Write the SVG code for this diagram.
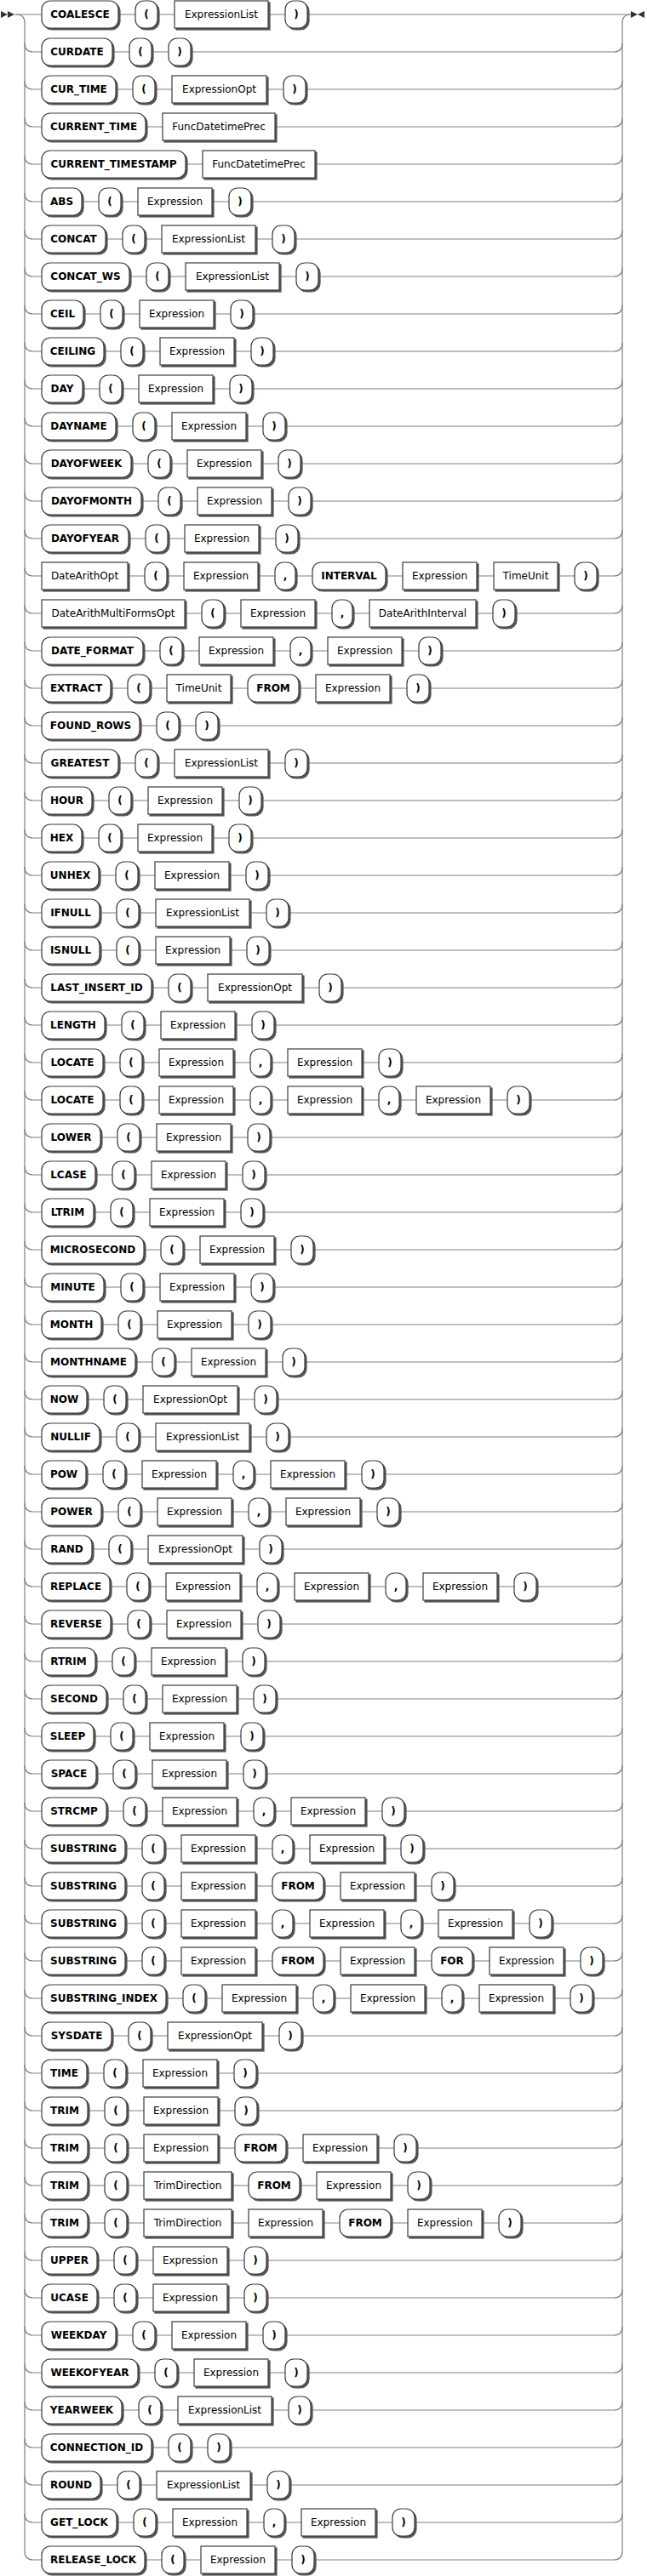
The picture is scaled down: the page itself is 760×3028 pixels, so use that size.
<svg xmlns="http://www.w3.org/2000/svg" width="760" height="3028" viewBox="0 0 760 3028">
<style>
.line{fill:none;stroke:#808080;stroke-width:1.2}
.t{fill:#fff;stroke:#3c3c3c;stroke-width:1.2;filter:url(#sh)}
.n{fill:#fff;stroke:#3c3c3c;stroke-width:1.2;filter:url(#sh)}
.tt{font-family:"DejaVu Sans",sans-serif;font-weight:bold;font-size:12px;fill:#000;text-anchor:middle}
.nt{font-family:"DejaVu Sans",sans-serif;font-size:12px;fill:#000;text-anchor:middle}
.mk{fill:#333}
</style>
<defs>
<filter id="sh" x="-20%" y="-20%" width="140%" height="140%">
<feOffset in="SourceAlpha" dx="2" dy="2" result="o"/>
<feFlood flood-color="#555"/>
<feComposite in2="o" operator="in" result="s"/>
<feMerge><feMergeNode in="s"/><feMergeNode in="SourceGraphic"/></feMerge>
</filter>
</defs>
<rect width="760" height="3028" fill="#fff"/>
<g id="connectors" class="line">
<path d="M17 17 H741"/>
<path d="M19 17 q10 0 10 10 V2999"/>
<path d="M731 2999 V27 q0 -10 10 -10"/>
<path d="M29 51 q0 10 10 10 H721 q10 0 10 -10"/>
<path d="M29 95 q0 10 10 10 H721 q10 0 10 -10"/>
<path d="M29 139 q0 10 10 10 H721 q10 0 10 -10"/>
<path d="M29 183 q0 10 10 10 H721 q10 0 10 -10"/>
<path d="M29 227 q0 10 10 10 H721 q10 0 10 -10"/>
<path d="M29 271 q0 10 10 10 H721 q10 0 10 -10"/>
<path d="M29 315 q0 10 10 10 H721 q10 0 10 -10"/>
<path d="M29 359 q0 10 10 10 H721 q10 0 10 -10"/>
<path d="M29 403 q0 10 10 10 H721 q10 0 10 -10"/>
<path d="M29 447 q0 10 10 10 H721 q10 0 10 -10"/>
<path d="M29 491 q0 10 10 10 H721 q10 0 10 -10"/>
<path d="M29 535 q0 10 10 10 H721 q10 0 10 -10"/>
<path d="M29 579 q0 10 10 10 H721 q10 0 10 -10"/>
<path d="M29 623 q0 10 10 10 H721 q10 0 10 -10"/>
<path d="M29 667 q0 10 10 10 H721 q10 0 10 -10"/>
<path d="M29 711 q0 10 10 10 H721 q10 0 10 -10"/>
<path d="M29 755 q0 10 10 10 H721 q10 0 10 -10"/>
<path d="M29 799 q0 10 10 10 H721 q10 0 10 -10"/>
<path d="M29 843 q0 10 10 10 H721 q10 0 10 -10"/>
<path d="M29 887 q0 10 10 10 H721 q10 0 10 -10"/>
<path d="M29 931 q0 10 10 10 H721 q10 0 10 -10"/>
<path d="M29 975 q0 10 10 10 H721 q10 0 10 -10"/>
<path d="M29 1019 q0 10 10 10 H721 q10 0 10 -10"/>
<path d="M29 1063 q0 10 10 10 H721 q10 0 10 -10"/>
<path d="M29 1107 q0 10 10 10 H721 q10 0 10 -10"/>
<path d="M29 1151 q0 10 10 10 H721 q10 0 10 -10"/>
<path d="M29 1195 q0 10 10 10 H721 q10 0 10 -10"/>
<path d="M29 1239 q0 10 10 10 H721 q10 0 10 -10"/>
<path d="M29 1283 q0 10 10 10 H721 q10 0 10 -10"/>
<path d="M29 1327 q0 10 10 10 H721 q10 0 10 -10"/>
<path d="M29 1371 q0 10 10 10 H721 q10 0 10 -10"/>
<path d="M29 1415 q0 10 10 10 H721 q10 0 10 -10"/>
<path d="M29 1459 q0 10 10 10 H721 q10 0 10 -10"/>
<path d="M29 1503 q0 10 10 10 H721 q10 0 10 -10"/>
<path d="M29 1547 q0 10 10 10 H721 q10 0 10 -10"/>
<path d="M29 1591 q0 10 10 10 H721 q10 0 10 -10"/>
<path d="M29 1635 q0 10 10 10 H721 q10 0 10 -10"/>
<path d="M29 1679 q0 10 10 10 H721 q10 0 10 -10"/>
<path d="M29 1723 q0 10 10 10 H721 q10 0 10 -10"/>
<path d="M29 1767 q0 10 10 10 H721 q10 0 10 -10"/>
<path d="M29 1811 q0 10 10 10 H721 q10 0 10 -10"/>
<path d="M29 1855 q0 10 10 10 H721 q10 0 10 -10"/>
<path d="M29 1899 q0 10 10 10 H721 q10 0 10 -10"/>
<path d="M29 1943 q0 10 10 10 H721 q10 0 10 -10"/>
<path d="M29 1987 q0 10 10 10 H721 q10 0 10 -10"/>
<path d="M29 2031 q0 10 10 10 H721 q10 0 10 -10"/>
<path d="M29 2075 q0 10 10 10 H721 q10 0 10 -10"/>
<path d="M29 2119 q0 10 10 10 H721 q10 0 10 -10"/>
<path d="M29 2163 q0 10 10 10 H721 q10 0 10 -10"/>
<path d="M29 2207 q0 10 10 10 H721 q10 0 10 -10"/>
<path d="M29 2251 q0 10 10 10 H721 q10 0 10 -10"/>
<path d="M29 2295 q0 10 10 10 H721 q10 0 10 -10"/>
<path d="M29 2339 q0 10 10 10 H721 q10 0 10 -10"/>
<path d="M29 2383 q0 10 10 10 H721 q10 0 10 -10"/>
<path d="M29 2427 q0 10 10 10 H721 q10 0 10 -10"/>
<path d="M29 2471 q0 10 10 10 H721 q10 0 10 -10"/>
<path d="M29 2515 q0 10 10 10 H721 q10 0 10 -10"/>
<path d="M29 2559 q0 10 10 10 H721 q10 0 10 -10"/>
<path d="M29 2603 q0 10 10 10 H721 q10 0 10 -10"/>
<path d="M29 2647 q0 10 10 10 H721 q10 0 10 -10"/>
<path d="M29 2691 q0 10 10 10 H721 q10 0 10 -10"/>
<path d="M29 2735 q0 10 10 10 H721 q10 0 10 -10"/>
<path d="M29 2779 q0 10 10 10 H721 q10 0 10 -10"/>
<path d="M29 2823 q0 10 10 10 H721 q10 0 10 -10"/>
<path d="M29 2867 q0 10 10 10 H721 q10 0 10 -10"/>
<path d="M29 2911 q0 10 10 10 H721 q10 0 10 -10"/>
<path d="M29 2955 q0 10 10 10 H721 q10 0 10 -10"/>
<path d="M29 2999 q0 10 10 10 H721 q10 0 10 -10"/>
</g>
<g id="start"><polygon class="mk" points="9 17 1 13 1 21"/><polygon class="mk" points="17 17 9 13 9 21"/></g>
<g id="end"><polygon class="mk" points="749 17 757 13 757 21"/><polygon class="mk" points="749 17 741 13 741 21"/></g>

<g id="row1">
<g id="r1-1"><rect class="t" x="49" y="1" width="90" height="32" rx="10"/><text class="tt" x="94" y="21">COALESCE</text></g>
<g id="r1-2"><rect class="t" x="159" y="1" width="26" height="32" rx="10"/><text class="tt" x="172" y="21">(</text></g>
<g id="r1-3"><rect class="n" x="205" y="1" width="110" height="32"/><text class="nt" x="260" y="21">ExpressionList</text></g>
<g id="r1-4"><rect class="t" x="335" y="1" width="26" height="32" rx="10"/><text class="tt" x="348" y="21">)</text></g>
</g>
<g id="row2" transform="translate(0,44)">
<g id="r2-1"><rect class="t" x="49" y="1" width="83" height="32" rx="10"/><text class="tt" x="90.5" y="21">CURDATE</text></g>
<g id="r2-2"><rect class="t" x="152" y="1" width="26" height="32" rx="10"/><text class="tt" x="165" y="21">(</text></g>
<g id="r2-3"><rect class="t" x="198" y="1" width="26" height="32" rx="10"/><text class="tt" x="211" y="21">)</text></g>
</g>
<g id="row3" transform="translate(0,88)">
<g id="r3-1"><rect class="t" x="49" y="1" width="87" height="32" rx="10"/><text class="tt" x="92.5" y="21">CUR_TIME</text></g>
<g id="r3-2"><rect class="t" x="156" y="1" width="26" height="32" rx="10"/><text class="tt" x="169" y="21">(</text></g>
<g id="r3-3"><rect class="n" x="202" y="1" width="111" height="32"/><text class="nt" x="257.5" y="21">ExpressionOpt</text></g>
<g id="r3-4"><rect class="t" x="333" y="1" width="26" height="32" rx="10"/><text class="tt" x="346" y="21">)</text></g>
</g>
<g id="row4" transform="translate(0,132)">
<g id="r4-1"><rect class="t" x="49" y="1" width="122" height="32" rx="10"/><text class="tt" x="110" y="21">CURRENT_TIME</text></g>
<g id="r4-2"><rect class="n" x="191" y="1" width="132" height="32"/><text class="nt" x="257" y="21">FuncDatetimePrec</text></g>
</g>
<g id="row5" transform="translate(0,176)">
<g id="r5-1"><rect class="t" x="49" y="1" width="169" height="32" rx="10"/><text class="tt" x="133.5" y="21">CURRENT_TIMESTAMP</text></g>
<g id="r5-2"><rect class="n" x="238" y="1" width="132" height="32"/><text class="nt" x="304" y="21">FuncDatetimePrec</text></g>
</g>
<g id="row6" transform="translate(0,220)">
<g id="r6-1"><rect class="t" x="49" y="1" width="47" height="32" rx="10"/><text class="tt" x="72.5" y="21">ABS</text></g>
<g id="r6-2"><rect class="t" x="116" y="1" width="26" height="32" rx="10"/><text class="tt" x="129" y="21">(</text></g>
<g id="r6-3"><rect class="n" x="162" y="1" width="87" height="32"/><text class="nt" x="205.5" y="21">Expression</text></g>
<g id="r6-4"><rect class="t" x="269" y="1" width="26" height="32" rx="10"/><text class="tt" x="282" y="21">)</text></g>
</g>
<g id="row7" transform="translate(0,264)">
<g id="r7-1"><rect class="t" x="49" y="1" width="75" height="32" rx="10"/><text class="tt" x="86.5" y="21">CONCAT</text></g>
<g id="r7-2"><rect class="t" x="144" y="1" width="26" height="32" rx="10"/><text class="tt" x="157" y="21">(</text></g>
<g id="r7-3"><rect class="n" x="190" y="1" width="110" height="32"/><text class="nt" x="245" y="21">ExpressionList</text></g>
<g id="r7-4"><rect class="t" x="320" y="1" width="26" height="32" rx="10"/><text class="tt" x="333" y="21">)</text></g>
</g>
<g id="row8" transform="translate(0,308)">
<g id="r8-1"><rect class="t" x="49" y="1" width="103" height="32" rx="10"/><text class="tt" x="100.5" y="21">CONCAT_WS</text></g>
<g id="r8-2"><rect class="t" x="172" y="1" width="26" height="32" rx="10"/><text class="tt" x="185" y="21">(</text></g>
<g id="r8-3"><rect class="n" x="218" y="1" width="110" height="32"/><text class="nt" x="273" y="21">ExpressionList</text></g>
<g id="r8-4"><rect class="t" x="348" y="1" width="26" height="32" rx="10"/><text class="tt" x="361" y="21">)</text></g>
</g>
<g id="row9" transform="translate(0,352)">
<g id="r9-1"><rect class="t" x="49" y="1" width="49" height="32" rx="10"/><text class="tt" x="73.5" y="21">CEIL</text></g>
<g id="r9-2"><rect class="t" x="118" y="1" width="26" height="32" rx="10"/><text class="tt" x="131" y="21">(</text></g>
<g id="r9-3"><rect class="n" x="164" y="1" width="87" height="32"/><text class="nt" x="207.5" y="21">Expression</text></g>
<g id="r9-4"><rect class="t" x="271" y="1" width="26" height="32" rx="10"/><text class="tt" x="284" y="21">)</text></g>
</g>
<g id="row10" transform="translate(0,396)">
<g id="r10-1"><rect class="t" x="49" y="1" width="73" height="32" rx="10"/><text class="tt" x="85.5" y="21">CEILING</text></g>
<g id="r10-2"><rect class="t" x="142" y="1" width="26" height="32" rx="10"/><text class="tt" x="155" y="21">(</text></g>
<g id="r10-3"><rect class="n" x="188" y="1" width="87" height="32"/><text class="nt" x="231.5" y="21">Expression</text></g>
<g id="r10-4"><rect class="t" x="295" y="1" width="26" height="32" rx="10"/><text class="tt" x="308" y="21">)</text></g>
</g>
<g id="row11" transform="translate(0,440)">
<g id="r11-1"><rect class="t" x="49" y="1" width="48" height="32" rx="10"/><text class="tt" x="73" y="21">DAY</text></g>
<g id="r11-2"><rect class="t" x="117" y="1" width="26" height="32" rx="10"/><text class="tt" x="130" y="21">(</text></g>
<g id="r11-3"><rect class="n" x="163" y="1" width="87" height="32"/><text class="nt" x="206.5" y="21">Expression</text></g>
<g id="r11-4"><rect class="t" x="270" y="1" width="26" height="32" rx="10"/><text class="tt" x="283" y="21">)</text></g>
</g>
<g id="row12" transform="translate(0,484)">
<g id="r12-1"><rect class="t" x="49" y="1" width="87" height="32" rx="10"/><text class="tt" x="92.5" y="21">DAYNAME</text></g>
<g id="r12-2"><rect class="t" x="156" y="1" width="26" height="32" rx="10"/><text class="tt" x="169" y="21">(</text></g>
<g id="r12-3"><rect class="n" x="202" y="1" width="87" height="32"/><text class="nt" x="245.5" y="21">Expression</text></g>
<g id="r12-4"><rect class="t" x="309" y="1" width="26" height="32" rx="10"/><text class="tt" x="322" y="21">)</text></g>
</g>
<g id="row13" transform="translate(0,528)">
<g id="r13-1"><rect class="t" x="49" y="1" width="105" height="32" rx="10"/><text class="tt" x="101.5" y="21">DAYOFWEEK</text></g>
<g id="r13-2"><rect class="t" x="174" y="1" width="26" height="32" rx="10"/><text class="tt" x="187" y="21">(</text></g>
<g id="r13-3"><rect class="n" x="220" y="1" width="87" height="32"/><text class="nt" x="263.5" y="21">Expression</text></g>
<g id="r13-4"><rect class="t" x="327" y="1" width="26" height="32" rx="10"/><text class="tt" x="340" y="21">)</text></g>
</g>
<g id="row14" transform="translate(0,572)">
<g id="r14-1"><rect class="t" x="49" y="1" width="117" height="32" rx="10"/><text class="tt" x="107.5" y="21">DAYOFMONTH</text></g>
<g id="r14-2"><rect class="t" x="186" y="1" width="26" height="32" rx="10"/><text class="tt" x="199" y="21">(</text></g>
<g id="r14-3"><rect class="n" x="232" y="1" width="87" height="32"/><text class="nt" x="275.5" y="21">Expression</text></g>
<g id="r14-4"><rect class="t" x="339" y="1" width="26" height="32" rx="10"/><text class="tt" x="352" y="21">)</text></g>
</g>
<g id="row15" transform="translate(0,616)">
<g id="r15-1"><rect class="t" x="49" y="1" width="102" height="32" rx="10"/><text class="tt" x="100" y="21">DAYOFYEAR</text></g>
<g id="r15-2"><rect class="t" x="171" y="1" width="26" height="32" rx="10"/><text class="tt" x="184" y="21">(</text></g>
<g id="r15-3"><rect class="n" x="217" y="1" width="87" height="32"/><text class="nt" x="260.5" y="21">Expression</text></g>
<g id="r15-4"><rect class="t" x="324" y="1" width="26" height="32" rx="10"/><text class="tt" x="337" y="21">)</text></g>
</g>
<g id="row16" transform="translate(0,660)">
<g id="r16-1"><rect class="n" x="49" y="1" width="101" height="32"/><text class="nt" x="99.5" y="21">DateArithOpt</text></g>
<g id="r16-2"><rect class="t" x="170" y="1" width="26" height="32" rx="10"/><text class="tt" x="183" y="21">(</text></g>
<g id="r16-3"><rect class="n" x="216" y="1" width="87" height="32"/><text class="nt" x="259.5" y="21">Expression</text></g>
<g id="r16-4"><rect class="t" x="323" y="1" width="24" height="32" rx="10"/><text class="tt" x="335" y="21">,</text></g>
<g id="r16-5"><rect class="t" x="367" y="1" width="86" height="32" rx="10"/><text class="tt" x="410" y="21">INTERVAL</text></g>
<g id="r16-6"><rect class="n" x="473" y="1" width="87" height="32"/><text class="nt" x="516.5" y="21">Expression</text></g>
<g id="r16-7"><rect class="n" x="580" y="1" width="75" height="32"/><text class="nt" x="617.5" y="21">TimeUnit</text></g>
<g id="r16-8"><rect class="t" x="675" y="1" width="26" height="32" rx="10"/><text class="tt" x="688" y="21">)</text></g>
</g>
<g id="row17" transform="translate(0,704)">
<g id="r17-1"><rect class="n" x="49" y="1" width="168" height="32"/><text class="nt" x="133" y="21">DateArithMultiFormsOpt</text></g>
<g id="r17-2"><rect class="t" x="237" y="1" width="26" height="32" rx="10"/><text class="tt" x="250" y="21">(</text></g>
<g id="r17-3"><rect class="n" x="283" y="1" width="87" height="32"/><text class="nt" x="326.5" y="21">Expression</text></g>
<g id="r17-4"><rect class="t" x="390" y="1" width="24" height="32" rx="10"/><text class="tt" x="402" y="21">,</text></g>
<g id="r17-5"><rect class="n" x="434" y="1" width="125" height="32"/><text class="nt" x="496.5" y="21">DateArithInterval</text></g>
<g id="r17-6"><rect class="t" x="579" y="1" width="26" height="32" rx="10"/><text class="tt" x="592" y="21">)</text></g>
</g>
<g id="row18" transform="translate(0,748)">
<g id="r18-1"><rect class="t" x="49" y="1" width="119" height="32" rx="10"/><text class="tt" x="108.5" y="21">DATE_FORMAT</text></g>
<g id="r18-2"><rect class="t" x="188" y="1" width="26" height="32" rx="10"/><text class="tt" x="201" y="21">(</text></g>
<g id="r18-3"><rect class="n" x="234" y="1" width="87" height="32"/><text class="nt" x="277.5" y="21">Expression</text></g>
<g id="r18-4"><rect class="t" x="341" y="1" width="24" height="32" rx="10"/><text class="tt" x="353" y="21">,</text></g>
<g id="r18-5"><rect class="n" x="385" y="1" width="87" height="32"/><text class="nt" x="428.5" y="21">Expression</text></g>
<g id="r18-6"><rect class="t" x="492" y="1" width="26" height="32" rx="10"/><text class="tt" x="505" y="21">)</text></g>
</g>
<g id="row19" transform="translate(0,792)">
<g id="r19-1"><rect class="t" x="49" y="1" width="81" height="32" rx="10"/><text class="tt" x="89.5" y="21">EXTRACT</text></g>
<g id="r19-2"><rect class="t" x="150" y="1" width="26" height="32" rx="10"/><text class="tt" x="163" y="21">(</text></g>
<g id="r19-3"><rect class="n" x="196" y="1" width="75" height="32"/><text class="nt" x="233.5" y="21">TimeUnit</text></g>
<g id="r19-4"><rect class="t" x="291" y="1" width="60" height="32" rx="10"/><text class="tt" x="321" y="21">FROM</text></g>
<g id="r19-5"><rect class="n" x="371" y="1" width="87" height="32"/><text class="nt" x="414.5" y="21">Expression</text></g>
<g id="r19-6"><rect class="t" x="478" y="1" width="26" height="32" rx="10"/><text class="tt" x="491" y="21">)</text></g>
</g>
<g id="row20" transform="translate(0,836)">
<g id="r20-1"><rect class="t" x="49" y="1" width="115" height="32" rx="10"/><text class="tt" x="106.5" y="21">FOUND_ROWS</text></g>
<g id="r20-2"><rect class="t" x="184" y="1" width="26" height="32" rx="10"/><text class="tt" x="197" y="21">(</text></g>
<g id="r20-3"><rect class="t" x="230" y="1" width="26" height="32" rx="10"/><text class="tt" x="243" y="21">)</text></g>
</g>
<g id="row21" transform="translate(0,880)">
<g id="r21-1"><rect class="t" x="49" y="1" width="90" height="32" rx="10"/><text class="tt" x="94" y="21">GREATEST</text></g>
<g id="r21-2"><rect class="t" x="159" y="1" width="26" height="32" rx="10"/><text class="tt" x="172" y="21">(</text></g>
<g id="r21-3"><rect class="n" x="205" y="1" width="110" height="32"/><text class="nt" x="260" y="21">ExpressionList</text></g>
<g id="r21-4"><rect class="t" x="335" y="1" width="26" height="32" rx="10"/><text class="tt" x="348" y="21">)</text></g>
</g>
<g id="row22" transform="translate(0,924)">
<g id="r22-1"><rect class="t" x="49" y="1" width="59" height="32" rx="10"/><text class="tt" x="78.5" y="21">HOUR</text></g>
<g id="r22-2"><rect class="t" x="128" y="1" width="26" height="32" rx="10"/><text class="tt" x="141" y="21">(</text></g>
<g id="r22-3"><rect class="n" x="174" y="1" width="87" height="32"/><text class="nt" x="217.5" y="21">Expression</text></g>
<g id="r22-4"><rect class="t" x="281" y="1" width="26" height="32" rx="10"/><text class="tt" x="294" y="21">)</text></g>
</g>
<g id="row23" transform="translate(0,968)">
<g id="r23-1"><rect class="t" x="49" y="1" width="47" height="32" rx="10"/><text class="tt" x="72.5" y="21">HEX</text></g>
<g id="r23-2"><rect class="t" x="116" y="1" width="26" height="32" rx="10"/><text class="tt" x="129" y="21">(</text></g>
<g id="r23-3"><rect class="n" x="162" y="1" width="87" height="32"/><text class="nt" x="205.5" y="21">Expression</text></g>
<g id="r23-4"><rect class="t" x="269" y="1" width="26" height="32" rx="10"/><text class="tt" x="282" y="21">)</text></g>
</g>
<g id="row24" transform="translate(0,1012)">
<g id="r24-1"><rect class="t" x="49" y="1" width="67" height="32" rx="10"/><text class="tt" x="82.5" y="21">UNHEX</text></g>
<g id="r24-2"><rect class="t" x="136" y="1" width="26" height="32" rx="10"/><text class="tt" x="149" y="21">(</text></g>
<g id="r24-3"><rect class="n" x="182" y="1" width="87" height="32"/><text class="nt" x="225.5" y="21">Expression</text></g>
<g id="r24-4"><rect class="t" x="289" y="1" width="26" height="32" rx="10"/><text class="tt" x="302" y="21">)</text></g>
</g>
<g id="row25" transform="translate(0,1056)">
<g id="r25-1"><rect class="t" x="49" y="1" width="68" height="32" rx="10"/><text class="tt" x="83" y="21">IFNULL</text></g>
<g id="r25-2"><rect class="t" x="137" y="1" width="26" height="32" rx="10"/><text class="tt" x="150" y="21">(</text></g>
<g id="r25-3"><rect class="n" x="183" y="1" width="110" height="32"/><text class="nt" x="238" y="21">ExpressionList</text></g>
<g id="r25-4"><rect class="t" x="313" y="1" width="26" height="32" rx="10"/><text class="tt" x="326" y="21">)</text></g>
</g>
<g id="row26" transform="translate(0,1100)">
<g id="r26-1"><rect class="t" x="49" y="1" width="68" height="32" rx="10"/><text class="tt" x="83" y="21">ISNULL</text></g>
<g id="r26-2"><rect class="t" x="137" y="1" width="26" height="32" rx="10"/><text class="tt" x="150" y="21">(</text></g>
<g id="r26-3"><rect class="n" x="183" y="1" width="87" height="32"/><text class="nt" x="226.5" y="21">Expression</text></g>
<g id="r26-4"><rect class="t" x="290" y="1" width="26" height="32" rx="10"/><text class="tt" x="303" y="21">)</text></g>
</g>
<g id="row27" transform="translate(0,1144)">
<g id="r27-1"><rect class="t" x="49" y="1" width="129" height="32" rx="10"/><text class="tt" x="113.5" y="21">LAST_INSERT_ID</text></g>
<g id="r27-2"><rect class="t" x="198" y="1" width="26" height="32" rx="10"/><text class="tt" x="211" y="21">(</text></g>
<g id="r27-3"><rect class="n" x="244" y="1" width="111" height="32"/><text class="nt" x="299.5" y="21">ExpressionOpt</text></g>
<g id="r27-4"><rect class="t" x="375" y="1" width="26" height="32" rx="10"/><text class="tt" x="388" y="21">)</text></g>
</g>
<g id="row28" transform="translate(0,1188)">
<g id="r28-1"><rect class="t" x="49" y="1" width="74" height="32" rx="10"/><text class="tt" x="86" y="21">LENGTH</text></g>
<g id="r28-2"><rect class="t" x="143" y="1" width="26" height="32" rx="10"/><text class="tt" x="156" y="21">(</text></g>
<g id="r28-3"><rect class="n" x="189" y="1" width="87" height="32"/><text class="nt" x="232.5" y="21">Expression</text></g>
<g id="r28-4"><rect class="t" x="296" y="1" width="26" height="32" rx="10"/><text class="tt" x="309" y="21">)</text></g>
</g>
<g id="row29" transform="translate(0,1232)">
<g id="r29-1"><rect class="t" x="49" y="1" width="72" height="32" rx="10"/><text class="tt" x="85" y="21">LOCATE</text></g>
<g id="r29-2"><rect class="t" x="141" y="1" width="26" height="32" rx="10"/><text class="tt" x="154" y="21">(</text></g>
<g id="r29-3"><rect class="n" x="187" y="1" width="87" height="32"/><text class="nt" x="230.5" y="21">Expression</text></g>
<g id="r29-4"><rect class="t" x="294" y="1" width="24" height="32" rx="10"/><text class="tt" x="306" y="21">,</text></g>
<g id="r29-5"><rect class="n" x="338" y="1" width="87" height="32"/><text class="nt" x="381.5" y="21">Expression</text></g>
<g id="r29-6"><rect class="t" x="445" y="1" width="26" height="32" rx="10"/><text class="tt" x="458" y="21">)</text></g>
</g>
<g id="row30" transform="translate(0,1276)">
<g id="r30-1"><rect class="t" x="49" y="1" width="72" height="32" rx="10"/><text class="tt" x="85" y="21">LOCATE</text></g>
<g id="r30-2"><rect class="t" x="141" y="1" width="26" height="32" rx="10"/><text class="tt" x="154" y="21">(</text></g>
<g id="r30-3"><rect class="n" x="187" y="1" width="87" height="32"/><text class="nt" x="230.5" y="21">Expression</text></g>
<g id="r30-4"><rect class="t" x="294" y="1" width="24" height="32" rx="10"/><text class="tt" x="306" y="21">,</text></g>
<g id="r30-5"><rect class="n" x="338" y="1" width="87" height="32"/><text class="nt" x="381.5" y="21">Expression</text></g>
<g id="r30-6"><rect class="t" x="445" y="1" width="24" height="32" rx="10"/><text class="tt" x="457" y="21">,</text></g>
<g id="r30-7"><rect class="n" x="489" y="1" width="87" height="32"/><text class="nt" x="532.5" y="21">Expression</text></g>
<g id="r30-8"><rect class="t" x="596" y="1" width="26" height="32" rx="10"/><text class="tt" x="609" y="21">)</text></g>
</g>
<g id="row31" transform="translate(0,1320)">
<g id="r31-1"><rect class="t" x="49" y="1" width="69" height="32" rx="10"/><text class="tt" x="83.5" y="21">LOWER</text></g>
<g id="r31-2"><rect class="t" x="138" y="1" width="26" height="32" rx="10"/><text class="tt" x="151" y="21">(</text></g>
<g id="r31-3"><rect class="n" x="184" y="1" width="87" height="32"/><text class="nt" x="227.5" y="21">Expression</text></g>
<g id="r31-4"><rect class="t" x="291" y="1" width="26" height="32" rx="10"/><text class="tt" x="304" y="21">)</text></g>
</g>
<g id="row32" transform="translate(0,1364)">
<g id="r32-1"><rect class="t" x="49" y="1" width="63" height="32" rx="10"/><text class="tt" x="80.5" y="21">LCASE</text></g>
<g id="r32-2"><rect class="t" x="132" y="1" width="26" height="32" rx="10"/><text class="tt" x="145" y="21">(</text></g>
<g id="r32-3"><rect class="n" x="178" y="1" width="87" height="32"/><text class="nt" x="221.5" y="21">Expression</text></g>
<g id="r32-4"><rect class="t" x="285" y="1" width="26" height="32" rx="10"/><text class="tt" x="298" y="21">)</text></g>
</g>
<g id="row33" transform="translate(0,1408)">
<g id="r33-1"><rect class="t" x="49" y="1" width="61" height="32" rx="10"/><text class="tt" x="79.5" y="21">LTRIM</text></g>
<g id="r33-2"><rect class="t" x="130" y="1" width="26" height="32" rx="10"/><text class="tt" x="143" y="21">(</text></g>
<g id="r33-3"><rect class="n" x="176" y="1" width="87" height="32"/><text class="nt" x="219.5" y="21">Expression</text></g>
<g id="r33-4"><rect class="t" x="283" y="1" width="26" height="32" rx="10"/><text class="tt" x="296" y="21">)</text></g>
</g>
<g id="row34" transform="translate(0,1452)">
<g id="r34-1"><rect class="t" x="49" y="1" width="120" height="32" rx="10"/><text class="tt" x="109" y="21">MICROSECOND</text></g>
<g id="r34-2"><rect class="t" x="189" y="1" width="26" height="32" rx="10"/><text class="tt" x="202" y="21">(</text></g>
<g id="r34-3"><rect class="n" x="235" y="1" width="87" height="32"/><text class="nt" x="278.5" y="21">Expression</text></g>
<g id="r34-4"><rect class="t" x="342" y="1" width="26" height="32" rx="10"/><text class="tt" x="355" y="21">)</text></g>
</g>
<g id="row35" transform="translate(0,1496)">
<g id="r35-1"><rect class="t" x="49" y="1" width="73" height="32" rx="10"/><text class="tt" x="85.5" y="21">MINUTE</text></g>
<g id="r35-2"><rect class="t" x="142" y="1" width="26" height="32" rx="10"/><text class="tt" x="155" y="21">(</text></g>
<g id="r35-3"><rect class="n" x="188" y="1" width="87" height="32"/><text class="nt" x="231.5" y="21">Expression</text></g>
<g id="r35-4"><rect class="t" x="295" y="1" width="26" height="32" rx="10"/><text class="tt" x="308" y="21">)</text></g>
</g>
<g id="row36" transform="translate(0,1540)">
<g id="r36-1"><rect class="t" x="49" y="1" width="70" height="32" rx="10"/><text class="tt" x="84" y="21">MONTH</text></g>
<g id="r36-2"><rect class="t" x="139" y="1" width="26" height="32" rx="10"/><text class="tt" x="152" y="21">(</text></g>
<g id="r36-3"><rect class="n" x="185" y="1" width="87" height="32"/><text class="nt" x="228.5" y="21">Expression</text></g>
<g id="r36-4"><rect class="t" x="292" y="1" width="26" height="32" rx="10"/><text class="tt" x="305" y="21">)</text></g>
</g>
<g id="row37" transform="translate(0,1584)">
<g id="r37-1"><rect class="t" x="49" y="1" width="110" height="32" rx="10"/><text class="tt" x="104" y="21">MONTHNAME</text></g>
<g id="r37-2"><rect class="t" x="179" y="1" width="26" height="32" rx="10"/><text class="tt" x="192" y="21">(</text></g>
<g id="r37-3"><rect class="n" x="225" y="1" width="87" height="32"/><text class="nt" x="268.5" y="21">Expression</text></g>
<g id="r37-4"><rect class="t" x="332" y="1" width="26" height="32" rx="10"/><text class="tt" x="345" y="21">)</text></g>
</g>
<g id="row38" transform="translate(0,1628)">
<g id="r38-1"><rect class="t" x="49" y="1" width="53" height="32" rx="10"/><text class="tt" x="75.5" y="21">NOW</text></g>
<g id="r38-2"><rect class="t" x="122" y="1" width="26" height="32" rx="10"/><text class="tt" x="135" y="21">(</text></g>
<g id="r38-3"><rect class="n" x="168" y="1" width="111" height="32"/><text class="nt" x="223.5" y="21">ExpressionOpt</text></g>
<g id="r38-4"><rect class="t" x="299" y="1" width="26" height="32" rx="10"/><text class="tt" x="312" y="21">)</text></g>
</g>
<g id="row39" transform="translate(0,1672)">
<g id="r39-1"><rect class="t" x="49" y="1" width="68" height="32" rx="10"/><text class="tt" x="83" y="21">NULLIF</text></g>
<g id="r39-2"><rect class="t" x="137" y="1" width="26" height="32" rx="10"/><text class="tt" x="150" y="21">(</text></g>
<g id="r39-3"><rect class="n" x="183" y="1" width="110" height="32"/><text class="nt" x="238" y="21">ExpressionList</text></g>
<g id="r39-4"><rect class="t" x="313" y="1" width="26" height="32" rx="10"/><text class="tt" x="326" y="21">)</text></g>
</g>
<g id="row40" transform="translate(0,1716)">
<g id="r40-1"><rect class="t" x="49" y="1" width="52" height="32" rx="10"/><text class="tt" x="75" y="21">POW</text></g>
<g id="r40-2"><rect class="t" x="121" y="1" width="26" height="32" rx="10"/><text class="tt" x="134" y="21">(</text></g>
<g id="r40-3"><rect class="n" x="167" y="1" width="87" height="32"/><text class="nt" x="210.5" y="21">Expression</text></g>
<g id="r40-4"><rect class="t" x="274" y="1" width="24" height="32" rx="10"/><text class="tt" x="286" y="21">,</text></g>
<g id="r40-5"><rect class="n" x="318" y="1" width="87" height="32"/><text class="nt" x="361.5" y="21">Expression</text></g>
<g id="r40-6"><rect class="t" x="425" y="1" width="26" height="32" rx="10"/><text class="tt" x="438" y="21">)</text></g>
</g>
<g id="row41" transform="translate(0,1760)">
<g id="r41-1"><rect class="t" x="49" y="1" width="70" height="32" rx="10"/><text class="tt" x="84" y="21">POWER</text></g>
<g id="r41-2"><rect class="t" x="139" y="1" width="26" height="32" rx="10"/><text class="tt" x="152" y="21">(</text></g>
<g id="r41-3"><rect class="n" x="185" y="1" width="87" height="32"/><text class="nt" x="228.5" y="21">Expression</text></g>
<g id="r41-4"><rect class="t" x="292" y="1" width="24" height="32" rx="10"/><text class="tt" x="304" y="21">,</text></g>
<g id="r41-5"><rect class="n" x="336" y="1" width="87" height="32"/><text class="nt" x="379.5" y="21">Expression</text></g>
<g id="r41-6"><rect class="t" x="443" y="1" width="26" height="32" rx="10"/><text class="tt" x="456" y="21">)</text></g>
</g>
<g id="row42" transform="translate(0,1804)">
<g id="r42-1"><rect class="t" x="49" y="1" width="59" height="32" rx="10"/><text class="tt" x="78.5" y="21">RAND</text></g>
<g id="r42-2"><rect class="t" x="128" y="1" width="26" height="32" rx="10"/><text class="tt" x="141" y="21">(</text></g>
<g id="r42-3"><rect class="n" x="174" y="1" width="111" height="32"/><text class="nt" x="229.5" y="21">ExpressionOpt</text></g>
<g id="r42-4"><rect class="t" x="305" y="1" width="26" height="32" rx="10"/><text class="tt" x="318" y="21">)</text></g>
</g>
<g id="row43" transform="translate(0,1848)">
<g id="r43-1"><rect class="t" x="49" y="1" width="80" height="32" rx="10"/><text class="tt" x="89" y="21">REPLACE</text></g>
<g id="r43-2"><rect class="t" x="149" y="1" width="26" height="32" rx="10"/><text class="tt" x="162" y="21">(</text></g>
<g id="r43-3"><rect class="n" x="195" y="1" width="87" height="32"/><text class="nt" x="238.5" y="21">Expression</text></g>
<g id="r43-4"><rect class="t" x="302" y="1" width="24" height="32" rx="10"/><text class="tt" x="314" y="21">,</text></g>
<g id="r43-5"><rect class="n" x="346" y="1" width="87" height="32"/><text class="nt" x="389.5" y="21">Expression</text></g>
<g id="r43-6"><rect class="t" x="453" y="1" width="24" height="32" rx="10"/><text class="tt" x="465" y="21">,</text></g>
<g id="r43-7"><rect class="n" x="497" y="1" width="87" height="32"/><text class="nt" x="540.5" y="21">Expression</text></g>
<g id="r43-8"><rect class="t" x="604" y="1" width="26" height="32" rx="10"/><text class="tt" x="617" y="21">)</text></g>
</g>
<g id="row44" transform="translate(0,1892)">
<g id="r44-1"><rect class="t" x="49" y="1" width="81" height="32" rx="10"/><text class="tt" x="89.5" y="21">REVERSE</text></g>
<g id="r44-2"><rect class="t" x="150" y="1" width="26" height="32" rx="10"/><text class="tt" x="163" y="21">(</text></g>
<g id="r44-3"><rect class="n" x="196" y="1" width="87" height="32"/><text class="nt" x="239.5" y="21">Expression</text></g>
<g id="r44-4"><rect class="t" x="303" y="1" width="26" height="32" rx="10"/><text class="tt" x="316" y="21">)</text></g>
</g>
<g id="row45" transform="translate(0,1936)">
<g id="r45-1"><rect class="t" x="49" y="1" width="63" height="32" rx="10"/><text class="tt" x="80.5" y="21">RTRIM</text></g>
<g id="r45-2"><rect class="t" x="132" y="1" width="26" height="32" rx="10"/><text class="tt" x="145" y="21">(</text></g>
<g id="r45-3"><rect class="n" x="178" y="1" width="87" height="32"/><text class="nt" x="221.5" y="21">Expression</text></g>
<g id="r45-4"><rect class="t" x="285" y="1" width="26" height="32" rx="10"/><text class="tt" x="298" y="21">)</text></g>
</g>
<g id="row46" transform="translate(0,1980)">
<g id="r46-1"><rect class="t" x="49" y="1" width="76" height="32" rx="10"/><text class="tt" x="87" y="21">SECOND</text></g>
<g id="r46-2"><rect class="t" x="145" y="1" width="26" height="32" rx="10"/><text class="tt" x="158" y="21">(</text></g>
<g id="r46-3"><rect class="n" x="191" y="1" width="87" height="32"/><text class="nt" x="234.5" y="21">Expression</text></g>
<g id="r46-4"><rect class="t" x="298" y="1" width="26" height="32" rx="10"/><text class="tt" x="311" y="21">)</text></g>
</g>
<g id="row47" transform="translate(0,2024)">
<g id="r47-1"><rect class="t" x="49" y="1" width="61" height="32" rx="10"/><text class="tt" x="79.5" y="21">SLEEP</text></g>
<g id="r47-2"><rect class="t" x="130" y="1" width="26" height="32" rx="10"/><text class="tt" x="143" y="21">(</text></g>
<g id="r47-3"><rect class="n" x="176" y="1" width="87" height="32"/><text class="nt" x="219.5" y="21">Expression</text></g>
<g id="r47-4"><rect class="t" x="283" y="1" width="26" height="32" rx="10"/><text class="tt" x="296" y="21">)</text></g>
</g>
<g id="row48" transform="translate(0,2068)">
<g id="r48-1"><rect class="t" x="49" y="1" width="64" height="32" rx="10"/><text class="tt" x="81" y="21">SPACE</text></g>
<g id="r48-2"><rect class="t" x="133" y="1" width="26" height="32" rx="10"/><text class="tt" x="146" y="21">(</text></g>
<g id="r48-3"><rect class="n" x="179" y="1" width="87" height="32"/><text class="nt" x="222.5" y="21">Expression</text></g>
<g id="r48-4"><rect class="t" x="286" y="1" width="26" height="32" rx="10"/><text class="tt" x="299" y="21">)</text></g>
</g>
<g id="row49" transform="translate(0,2112)">
<g id="r49-1"><rect class="t" x="49" y="1" width="76" height="32" rx="10"/><text class="tt" x="87" y="21">STRCMP</text></g>
<g id="r49-2"><rect class="t" x="145" y="1" width="26" height="32" rx="10"/><text class="tt" x="158" y="21">(</text></g>
<g id="r49-3"><rect class="n" x="191" y="1" width="87" height="32"/><text class="nt" x="234.5" y="21">Expression</text></g>
<g id="r49-4"><rect class="t" x="298" y="1" width="24" height="32" rx="10"/><text class="tt" x="310" y="21">,</text></g>
<g id="r49-5"><rect class="n" x="342" y="1" width="87" height="32"/><text class="nt" x="385.5" y="21">Expression</text></g>
<g id="r49-6"><rect class="t" x="449" y="1" width="26" height="32" rx="10"/><text class="tt" x="462" y="21">)</text></g>
</g>
<g id="row50" transform="translate(0,2156)">
<g id="r50-1"><rect class="t" x="49" y="1" width="98" height="32" rx="10"/><text class="tt" x="98" y="21">SUBSTRING</text></g>
<g id="r50-2"><rect class="t" x="167" y="1" width="26" height="32" rx="10"/><text class="tt" x="180" y="21">(</text></g>
<g id="r50-3"><rect class="n" x="213" y="1" width="87" height="32"/><text class="nt" x="256.5" y="21">Expression</text></g>
<g id="r50-4"><rect class="t" x="320" y="1" width="24" height="32" rx="10"/><text class="tt" x="332" y="21">,</text></g>
<g id="r50-5"><rect class="n" x="364" y="1" width="87" height="32"/><text class="nt" x="407.5" y="21">Expression</text></g>
<g id="r50-6"><rect class="t" x="471" y="1" width="26" height="32" rx="10"/><text class="tt" x="484" y="21">)</text></g>
</g>
<g id="row51" transform="translate(0,2200)">
<g id="r51-1"><rect class="t" x="49" y="1" width="98" height="32" rx="10"/><text class="tt" x="98" y="21">SUBSTRING</text></g>
<g id="r51-2"><rect class="t" x="167" y="1" width="26" height="32" rx="10"/><text class="tt" x="180" y="21">(</text></g>
<g id="r51-3"><rect class="n" x="213" y="1" width="87" height="32"/><text class="nt" x="256.5" y="21">Expression</text></g>
<g id="r51-4"><rect class="t" x="320" y="1" width="60" height="32" rx="10"/><text class="tt" x="350" y="21">FROM</text></g>
<g id="r51-5"><rect class="n" x="400" y="1" width="87" height="32"/><text class="nt" x="443.5" y="21">Expression</text></g>
<g id="r51-6"><rect class="t" x="507" y="1" width="26" height="32" rx="10"/><text class="tt" x="520" y="21">)</text></g>
</g>
<g id="row52" transform="translate(0,2244)">
<g id="r52-1"><rect class="t" x="49" y="1" width="98" height="32" rx="10"/><text class="tt" x="98" y="21">SUBSTRING</text></g>
<g id="r52-2"><rect class="t" x="167" y="1" width="26" height="32" rx="10"/><text class="tt" x="180" y="21">(</text></g>
<g id="r52-3"><rect class="n" x="213" y="1" width="87" height="32"/><text class="nt" x="256.5" y="21">Expression</text></g>
<g id="r52-4"><rect class="t" x="320" y="1" width="24" height="32" rx="10"/><text class="tt" x="332" y="21">,</text></g>
<g id="r52-5"><rect class="n" x="364" y="1" width="87" height="32"/><text class="nt" x="407.5" y="21">Expression</text></g>
<g id="r52-6"><rect class="t" x="471" y="1" width="24" height="32" rx="10"/><text class="tt" x="483" y="21">,</text></g>
<g id="r52-7"><rect class="n" x="515" y="1" width="87" height="32"/><text class="nt" x="558.5" y="21">Expression</text></g>
<g id="r52-8"><rect class="t" x="622" y="1" width="26" height="32" rx="10"/><text class="tt" x="635" y="21">)</text></g>
</g>
<g id="row53" transform="translate(0,2288)">
<g id="r53-1"><rect class="t" x="49" y="1" width="98" height="32" rx="10"/><text class="tt" x="98" y="21">SUBSTRING</text></g>
<g id="r53-2"><rect class="t" x="167" y="1" width="26" height="32" rx="10"/><text class="tt" x="180" y="21">(</text></g>
<g id="r53-3"><rect class="n" x="213" y="1" width="87" height="32"/><text class="nt" x="256.5" y="21">Expression</text></g>
<g id="r53-4"><rect class="t" x="320" y="1" width="60" height="32" rx="10"/><text class="tt" x="350" y="21">FROM</text></g>
<g id="r53-5"><rect class="n" x="400" y="1" width="87" height="32"/><text class="nt" x="443.5" y="21">Expression</text></g>
<g id="r53-6"><rect class="t" x="507" y="1" width="48" height="32" rx="10"/><text class="tt" x="531" y="21">FOR</text></g>
<g id="r53-7"><rect class="n" x="575" y="1" width="87" height="32"/><text class="nt" x="618.5" y="21">Expression</text></g>
<g id="r53-8"><rect class="t" x="682" y="1" width="26" height="32" rx="10"/><text class="tt" x="695" y="21">)</text></g>
</g>
<g id="row54" transform="translate(0,2332)">
<g id="r54-1"><rect class="t" x="49" y="1" width="146" height="32" rx="10"/><text class="tt" x="122" y="21">SUBSTRING_INDEX</text></g>
<g id="r54-2"><rect class="t" x="215" y="1" width="26" height="32" rx="10"/><text class="tt" x="228" y="21">(</text></g>
<g id="r54-3"><rect class="n" x="261" y="1" width="87" height="32"/><text class="nt" x="304.5" y="21">Expression</text></g>
<g id="r54-4"><rect class="t" x="368" y="1" width="24" height="32" rx="10"/><text class="tt" x="380" y="21">,</text></g>
<g id="r54-5"><rect class="n" x="412" y="1" width="87" height="32"/><text class="nt" x="455.5" y="21">Expression</text></g>
<g id="r54-6"><rect class="t" x="519" y="1" width="24" height="32" rx="10"/><text class="tt" x="531" y="21">,</text></g>
<g id="r54-7"><rect class="n" x="563" y="1" width="87" height="32"/><text class="nt" x="606.5" y="21">Expression</text></g>
<g id="r54-8"><rect class="t" x="670" y="1" width="26" height="32" rx="10"/><text class="tt" x="683" y="21">)</text></g>
</g>
<g id="row55" transform="translate(0,2376)">
<g id="r55-1"><rect class="t" x="49" y="1" width="82" height="32" rx="10"/><text class="tt" x="90" y="21">SYSDATE</text></g>
<g id="r55-2"><rect class="t" x="151" y="1" width="26" height="32" rx="10"/><text class="tt" x="164" y="21">(</text></g>
<g id="r55-3"><rect class="n" x="197" y="1" width="111" height="32"/><text class="nt" x="252.5" y="21">ExpressionOpt</text></g>
<g id="r55-4"><rect class="t" x="328" y="1" width="26" height="32" rx="10"/><text class="tt" x="341" y="21">)</text></g>
</g>
<g id="row56" transform="translate(0,2420)">
<g id="r56-1"><rect class="t" x="49" y="1" width="53" height="32" rx="10"/><text class="tt" x="75.5" y="21">TIME</text></g>
<g id="r56-2"><rect class="t" x="122" y="1" width="26" height="32" rx="10"/><text class="tt" x="135" y="21">(</text></g>
<g id="r56-3"><rect class="n" x="168" y="1" width="87" height="32"/><text class="nt" x="211.5" y="21">Expression</text></g>
<g id="r56-4"><rect class="t" x="275" y="1" width="26" height="32" rx="10"/><text class="tt" x="288" y="21">)</text></g>
</g>
<g id="row57" transform="translate(0,2464)">
<g id="r57-1"><rect class="t" x="49" y="1" width="54" height="32" rx="10"/><text class="tt" x="76" y="21">TRIM</text></g>
<g id="r57-2"><rect class="t" x="123" y="1" width="26" height="32" rx="10"/><text class="tt" x="136" y="21">(</text></g>
<g id="r57-3"><rect class="n" x="169" y="1" width="87" height="32"/><text class="nt" x="212.5" y="21">Expression</text></g>
<g id="r57-4"><rect class="t" x="276" y="1" width="26" height="32" rx="10"/><text class="tt" x="289" y="21">)</text></g>
</g>
<g id="row58" transform="translate(0,2508)">
<g id="r58-1"><rect class="t" x="49" y="1" width="54" height="32" rx="10"/><text class="tt" x="76" y="21">TRIM</text></g>
<g id="r58-2"><rect class="t" x="123" y="1" width="26" height="32" rx="10"/><text class="tt" x="136" y="21">(</text></g>
<g id="r58-3"><rect class="n" x="169" y="1" width="87" height="32"/><text class="nt" x="212.5" y="21">Expression</text></g>
<g id="r58-4"><rect class="t" x="276" y="1" width="60" height="32" rx="10"/><text class="tt" x="306" y="21">FROM</text></g>
<g id="r58-5"><rect class="n" x="356" y="1" width="87" height="32"/><text class="nt" x="399.5" y="21">Expression</text></g>
<g id="r58-6"><rect class="t" x="463" y="1" width="26" height="32" rx="10"/><text class="tt" x="476" y="21">)</text></g>
</g>
<g id="row59" transform="translate(0,2552)">
<g id="r59-1"><rect class="t" x="49" y="1" width="54" height="32" rx="10"/><text class="tt" x="76" y="21">TRIM</text></g>
<g id="r59-2"><rect class="t" x="123" y="1" width="26" height="32" rx="10"/><text class="tt" x="136" y="21">(</text></g>
<g id="r59-3"><rect class="n" x="169" y="1" width="103" height="32"/><text class="nt" x="220.5" y="21">TrimDirection</text></g>
<g id="r59-4"><rect class="t" x="292" y="1" width="60" height="32" rx="10"/><text class="tt" x="322" y="21">FROM</text></g>
<g id="r59-5"><rect class="n" x="372" y="1" width="87" height="32"/><text class="nt" x="415.5" y="21">Expression</text></g>
<g id="r59-6"><rect class="t" x="479" y="1" width="26" height="32" rx="10"/><text class="tt" x="492" y="21">)</text></g>
</g>
<g id="row60" transform="translate(0,2596)">
<g id="r60-1"><rect class="t" x="49" y="1" width="54" height="32" rx="10"/><text class="tt" x="76" y="21">TRIM</text></g>
<g id="r60-2"><rect class="t" x="123" y="1" width="26" height="32" rx="10"/><text class="tt" x="136" y="21">(</text></g>
<g id="r60-3"><rect class="n" x="169" y="1" width="103" height="32"/><text class="nt" x="220.5" y="21">TrimDirection</text></g>
<g id="r60-4"><rect class="n" x="292" y="1" width="87" height="32"/><text class="nt" x="335.5" y="21">Expression</text></g>
<g id="r60-5"><rect class="t" x="399" y="1" width="60" height="32" rx="10"/><text class="tt" x="429" y="21">FROM</text></g>
<g id="r60-6"><rect class="n" x="479" y="1" width="87" height="32"/><text class="nt" x="522.5" y="21">Expression</text></g>
<g id="r60-7"><rect class="t" x="586" y="1" width="26" height="32" rx="10"/><text class="tt" x="599" y="21">)</text></g>
</g>
<g id="row61" transform="translate(0,2640)">
<g id="r61-1"><rect class="t" x="49" y="1" width="65" height="32" rx="10"/><text class="tt" x="81.5" y="21">UPPER</text></g>
<g id="r61-2"><rect class="t" x="134" y="1" width="26" height="32" rx="10"/><text class="tt" x="147" y="21">(</text></g>
<g id="r61-3"><rect class="n" x="180" y="1" width="87" height="32"/><text class="nt" x="223.5" y="21">Expression</text></g>
<g id="r61-4"><rect class="t" x="287" y="1" width="26" height="32" rx="10"/><text class="tt" x="300" y="21">)</text></g>
</g>
<g id="row62" transform="translate(0,2684)">
<g id="r62-1"><rect class="t" x="49" y="1" width="65" height="32" rx="10"/><text class="tt" x="81.5" y="21">UCASE</text></g>
<g id="r62-2"><rect class="t" x="134" y="1" width="26" height="32" rx="10"/><text class="tt" x="147" y="21">(</text></g>
<g id="r62-3"><rect class="n" x="180" y="1" width="87" height="32"/><text class="nt" x="223.5" y="21">Expression</text></g>
<g id="r62-4"><rect class="t" x="287" y="1" width="26" height="32" rx="10"/><text class="tt" x="300" y="21">)</text></g>
</g>
<g id="row63" transform="translate(0,2728)">
<g id="r63-1"><rect class="t" x="49" y="1" width="87" height="32" rx="10"/><text class="tt" x="92.5" y="21">WEEKDAY</text></g>
<g id="r63-2"><rect class="t" x="156" y="1" width="26" height="32" rx="10"/><text class="tt" x="169" y="21">(</text></g>
<g id="r63-3"><rect class="n" x="202" y="1" width="87" height="32"/><text class="nt" x="245.5" y="21">Expression</text></g>
<g id="r63-4"><rect class="t" x="309" y="1" width="26" height="32" rx="10"/><text class="tt" x="322" y="21">)</text></g>
</g>
<g id="row64" transform="translate(0,2772)">
<g id="r64-1"><rect class="t" x="49" y="1" width="113" height="32" rx="10"/><text class="tt" x="105.5" y="21">WEEKOFYEAR</text></g>
<g id="r64-2"><rect class="t" x="182" y="1" width="26" height="32" rx="10"/><text class="tt" x="195" y="21">(</text></g>
<g id="r64-3"><rect class="n" x="228" y="1" width="87" height="32"/><text class="nt" x="271.5" y="21">Expression</text></g>
<g id="r64-4"><rect class="t" x="335" y="1" width="26" height="32" rx="10"/><text class="tt" x="348" y="21">)</text></g>
</g>
<g id="row65" transform="translate(0,2816)">
<g id="r65-1"><rect class="t" x="49" y="1" width="94" height="32" rx="10"/><text class="tt" x="96" y="21">YEARWEEK</text></g>
<g id="r65-2"><rect class="t" x="163" y="1" width="26" height="32" rx="10"/><text class="tt" x="176" y="21">(</text></g>
<g id="r65-3"><rect class="n" x="209" y="1" width="110" height="32"/><text class="nt" x="264" y="21">ExpressionList</text></g>
<g id="r65-4"><rect class="t" x="339" y="1" width="26" height="32" rx="10"/><text class="tt" x="352" y="21">)</text></g>
</g>
<g id="row66" transform="translate(0,2860)">
<g id="r66-1"><rect class="t" x="49" y="1" width="129" height="32" rx="10"/><text class="tt" x="113.5" y="21">CONNECTION_ID</text></g>
<g id="r66-2"><rect class="t" x="198" y="1" width="26" height="32" rx="10"/><text class="tt" x="211" y="21">(</text></g>
<g id="r66-3"><rect class="t" x="244" y="1" width="26" height="32" rx="10"/><text class="tt" x="257" y="21">)</text></g>
</g>
<g id="row67" transform="translate(0,2904)">
<g id="r67-1"><rect class="t" x="49" y="1" width="69" height="32" rx="10"/><text class="tt" x="83.5" y="21">ROUND</text></g>
<g id="r67-2"><rect class="t" x="138" y="1" width="26" height="32" rx="10"/><text class="tt" x="151" y="21">(</text></g>
<g id="r67-3"><rect class="n" x="184" y="1" width="110" height="32"/><text class="nt" x="239" y="21">ExpressionList</text></g>
<g id="r67-4"><rect class="t" x="314" y="1" width="26" height="32" rx="10"/><text class="tt" x="327" y="21">)</text></g>
</g>
<g id="row68" transform="translate(0,2948)">
<g id="r68-1"><rect class="t" x="49" y="1" width="88" height="32" rx="10"/><text class="tt" x="93" y="21">GET_LOCK</text></g>
<g id="r68-2"><rect class="t" x="157" y="1" width="26" height="32" rx="10"/><text class="tt" x="170" y="21">(</text></g>
<g id="r68-3"><rect class="n" x="203" y="1" width="87" height="32"/><text class="nt" x="246.5" y="21">Expression</text></g>
<g id="r68-4"><rect class="t" x="310" y="1" width="24" height="32" rx="10"/><text class="tt" x="322" y="21">,</text></g>
<g id="r68-5"><rect class="n" x="354" y="1" width="87" height="32"/><text class="nt" x="397.5" y="21">Expression</text></g>
<g id="r68-6"><rect class="t" x="461" y="1" width="26" height="32" rx="10"/><text class="tt" x="474" y="21">)</text></g>
</g>
<g id="row69" transform="translate(0,2992)">
<g id="r69-1"><rect class="t" x="49" y="1" width="121" height="32" rx="10"/><text class="tt" x="109.5" y="21">RELEASE_LOCK</text></g>
<g id="r69-2"><rect class="t" x="190" y="1" width="26" height="32" rx="10"/><text class="tt" x="203" y="21">(</text></g>
<g id="r69-3"><rect class="n" x="236" y="1" width="87" height="32"/><text class="nt" x="279.5" y="21">Expression</text></g>
<g id="r69-4"><rect class="t" x="343" y="1" width="26" height="32" rx="10"/><text class="tt" x="356" y="21">)</text></g>
</g>
</svg>
